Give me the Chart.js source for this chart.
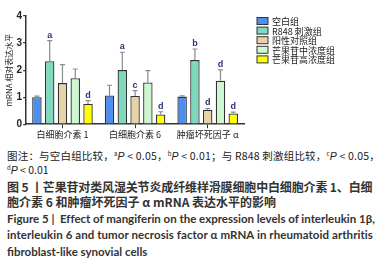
<!DOCTYPE html>
<html>
<head>
<meta charset="utf-8">
<script src="https://cdn.jsdelivr.net/npm/chart.js@4.4.1/dist/chart.umd.min.js"></script>
<style>
  html, body { margin: 0; padding: 0; background: #fff; }
  #wrap { position: relative; width: 386px; height: 264px; overflow: hidden; }
  #chart-box { position: absolute; left: 0; top: 0; width: 386px; height: 142px; }
  .cap { position: absolute; left: 7px; white-space: nowrap; color: #222; }
  .note { font-family: "Noto Sans CJK SC", sans-serif; font-size: 10.5px; }
  .note i { font-family: "Liberation Sans", sans-serif; }
  .note sup { font-size: 6px; vertical-align: 4px; }
  .title-cn { font-family: "Noto Sans CJK SC", sans-serif; font-size: 12px; font-weight: bold; color: #333; }
  .title-en { font-family: Lato, sans-serif; font-size: 11.5px; font-weight: bold; color: #333; }
</style>
</head>
<body>
<div id="wrap">
  <div id="chart-box"><canvas id="canvas" width="386" height="142"></canvas></div>
  <div class="cap note" style="top:148px" data-w="373">图注：与空白组比较，<sup>a</sup><i>P</i> &lt; 0.05，<sup>b</sup><i>P</i> &lt; 0.01；与 R848 刺激组比较，<sup>c</sup><i>P</i> &lt; 0.05，</div>
  <div class="cap note" style="top:162px"><sup>d</sup><i>P</i> &lt; 0.01</div>
  <div class="cap title-cn" style="top:178px" data-w="365">图 5 丨芒果苷对类风湿关节炎成纤维样滑膜细胞中白细胞介素 1、白细</div>
  <div class="cap title-cn" style="top:193px">胞介素 6 和肿瘤坏死因子 α mRNA 表达水平的影响</div>
  <div class="cap title-en" style="top:211.5px" data-w="367">Figure 5 |&nbsp; Effect of mangiferin on the expression levels of interleukin 1β,</div>
  <div class="cap title-en" style="top:228px" data-w="366">interleukin 6 and tumor necrosis factor α mRNA in rheumatoid arthritis</div>
  <div class="cap title-en" style="top:244.5px">fibroblast-like synovial cells</div>
</div>
<script>
// chart data
var categories = ['白细胞介素 1', '白细胞介素 6', '肿瘤坏死因子 α'];
var groupNames = ['空白组', 'R848 刺激组', '阳性对照组', '芒果苷中浓度组', '芒果苷高浓度组'];
var blankValues = [1.00, 1.06, 1.02];
var r848Values = [2.33, 2.00, 2.37];
var positiveValues = [1.52, 1.04, 0.53];
var midValues = [1.70, 1.54, 1.61];
var highValues = [0.75, 0.36, 0.40];
var blankErrors = [0.04, 0.38, 0.03];
var r848Errors = [0.76, 0.66, 0.41];
var positiveErrors = [0.68, 0.20, 0.05];
var midErrors = [0.34, 0.44, 0.40];
var highErrors = [0.12, 0.10, 0.05];
var blankMarks = ['', '', ''];
var r848Marks = ['a', 'a', 'b'];
var positiveMarks = ['', 'c', 'd'];
var midMarks = ['', '', 'd'];
var highMarks = ['d', 'd', 'd'];
var yTicks = [0, 1, 2, 3, 4];

var barColors = ['#4b8ff0', '#7ed9bf', '#e7d4a6', '#cdf7cf', '#ffff00'];

function makeDataset(i, values, errors, marks) {
    return {
        label: groupNames[i],
        data: values,
        errors: errors,
        marks: marks,
        backgroundColor: barColors[i],
        borderColor: '#333',
        borderWidth: 1.3,
        categoryPercentage: 0.88,
        barPercentage: 0.74
    };
}

// error bars + significance letters
var errorBarPlugin = {
    id: 'errorBars',
    afterDatasetsDraw: function(chart) {
        var ctx = chart.ctx;
        var y = chart.scales.y;
        chart.data.datasets.forEach(function(ds, di) {
            var meta = chart.getDatasetMeta(di);
            meta.data.forEach(function(bar, i) {
                var top = y.getPixelForValue(ds.data[i] + ds.errors[i]);
                ctx.save();
                ctx.strokeStyle = '#8a8a8a';
                ctx.lineWidth = 1.2;
                ctx.beginPath();
                ctx.moveTo(bar.x, bar.y);
                ctx.lineTo(bar.x, top);
                ctx.moveTo(bar.x - 2.5, top);
                ctx.lineTo(bar.x + 2.5, top);
                ctx.stroke();
                if (ds.marks[i]) {
                    ctx.fillStyle = '#2b3572';
                    ctx.font = 'bold 9px "Liberation Sans", sans-serif';
                    ctx.textAlign = 'center';
                    ctx.textBaseline = 'bottom';
                    ctx.fillText(ds.marks[i], bar.x, top - 1);
                }
                ctx.restore();
            });
        });
    }
};

// legend drawn to the right of the plot
var legendPlugin = {
    id: 'sideLegend',
    afterDraw: function(chart) {
        var ctx = chart.ctx;
        var x0 = chart.chartArea.right + 13;
        var y0 = 17.5;
        chart.data.datasets.forEach(function(ds, i) {
            var yy = y0 + i * 9.6;
            ctx.save();
            ctx.fillStyle = ds.backgroundColor;
            ctx.strokeStyle = '#333';
            ctx.lineWidth = 1;
            ctx.fillRect(x0, yy, 11, 7);
            ctx.strokeRect(x0, yy, 11, 7);
            ctx.fillStyle = '#222';
            ctx.font = '9px "Noto Sans CJK SC", sans-serif';
            ctx.textBaseline = 'middle';
            ctx.fillText(ds.label, x0 + 15, yy + 4);
            ctx.restore();
        });
    }
};

function renderChart() {
    var ctx = document.getElementById('canvas').getContext('2d');
    new Chart(ctx, {
        type: 'bar',
        data: {
            labels: categories,
            datasets: [
                makeDataset(0, blankValues, blankErrors, blankMarks),
                makeDataset(1, r848Values, r848Errors, r848Marks),
                makeDataset(2, positiveValues, positiveErrors, positiveMarks),
                makeDataset(3, midValues, midErrors, midMarks),
                makeDataset(4, highValues, highErrors, highMarks)
            ]
        },
        options: {
            responsive: false,
            animation: false,
            layout: { padding: { top: 16, left: 4, right: 142, bottom: 1 } },
            plugins: {
                legend: { display: false },
                tooltip: { enabled: false }
            },
            scales: {
                x: {
                    grid: { offset: false, drawOnChartArea: false, tickLength: 4, color: '#333', lineWidth: 1 },
                    border: { color: '#333', width: 1.5 },
                    ticks: {
                        color: '#222',
                        padding: 1,
                        maxRotation: 0,
                        font: { family: '"Noto Sans CJK SC", sans-serif', size: 9 }
                    }
                },
                y: {
                    min: 0,
                    max: 4,
                    afterBuildTicks: function(axis) {
                        axis.ticks = yTicks.map(function(v) { return { value: v }; });
                    },
                    grid: { drawOnChartArea: false, tickLength: 3, color: '#333', lineWidth: 1.2 },
                    border: { color: '#333', width: 1.5 },
                    ticks: {
                        color: '#222',
                        padding: 1,
                        font: { family: '"Liberation Sans", sans-serif', size: 10, weight: 'bold' }
                    },
                    title: {
                        display: true,
                        text: 'mRNA 相对表达水平',
                        color: '#222',
                        padding: { top: 0, bottom: 2 },
                        font: { family: '"Noto Sans CJK SC", sans-serif', size: 8 }
                    }
                }
            }
        },
        plugins: [errorBarPlugin, legendPlugin]
    });
}

// stretch caption lines to the width they have in the figure
function fitCaptions() {
    document.querySelectorAll('.cap[data-w]').forEach(function(el) {
        var target = Number(el.dataset.w);
        var n = el.textContent.length;
        var diff = target - el.scrollWidth;
        el.style.letterSpacing = (diff / n) + 'px';
    });
}

function onLoad() {
    renderChart();
    fitCaptions();
}

if (document.readyState !== 'loading') {
    onLoad();
} else {
    document.addEventListener('DOMContentLoaded', onLoad);
}
</script>
</body>
</html>
